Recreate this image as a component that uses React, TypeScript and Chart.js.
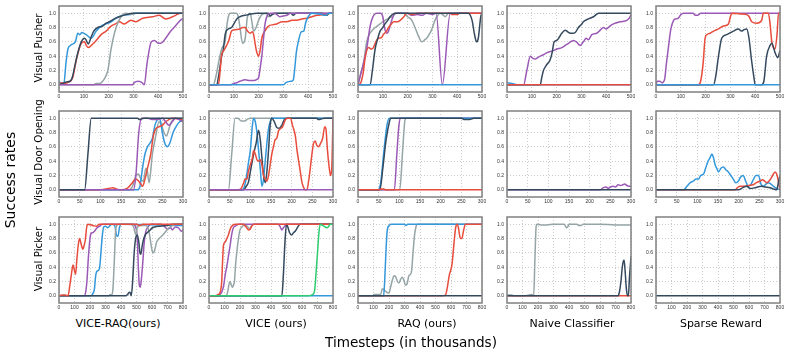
import React, { useEffect, useRef } from "react";
import { Chart, registerables } from "chart.js";
Chart.register(...registerables);

type Pt = [number, number];

const BLUE = "#3498db";
const RED = "#e74c3c";
const GRAY = "#95a5a6";
const DARK = "#34495e";
const PURPLE = "#9b59b6";
const GREEN = "#2ecc71";

// ---------- labels & ticks ----------
const rowLabels = ["Visual Pusher", "Visual Door Opening", "Visual Picker"];
const methodLabels = ["VICE-RAQ(ours)", "VICE (ours)", "RAQ (ours)", "Naive Classifier", "Sparse Reward"];
const xAxisTitle = "Timesteps (in thousands)";
const yAxisTitle = "Success rates";
const yTicks = [0, 0.2, 0.4, 0.6, 0.8, 1.0];
const pusherXTicks = [0, 100, 200, 300, 400, 500];
const doorXTicks = [0, 50, 100, 150, 200, 250, 300];
const pickerXTicks = [0, 100, 200, 300, 400, 500, 600, 700, 800];

// ---------- Visual Pusher ----------
const pushViceRaqBlue: Pt[] = [[0,0.05],[8,0.02],[20,0.03],[28,0.3],[36,0.5],[46,0.55],[56,0.57],[66,0.6],[76,0.72],[84,0.7],[92,0.73],[110,0.7],[130,0.65],[150,0.75],[170,0.82],[190,0.85],[210,0.88],[230,0.93],[257,0.97],[284,0.98],[310,1.0],[500,1.0]];
const pushViceRaqDark: Pt[] = [[0,0],[15,0.02],[30,0.04],[45,0.05],[55,0.12],[63,0.25],[76,0.45],[90,0.6],[103,0.65],[110,0.62],[118,0.57],[128,0.65],[140,0.75],[156,0.8],[176,0.82],[190,0.86],[203,0.88],[223,0.92],[243,0.95],[270,0.98],[297,1.0],[500,1.0]];
const pushViceRaqRed: Pt[] = [[0,0],[10,0.03],[20,0.02],[40,0.04],[55,0.1],[70,0.35],[90,0.58],[103,0.6],[110,0.55],[118,0.52],[136,0.57],[150,0.62],[170,0.7],[190,0.75],[210,0.82],[228,0.85],[243,0.88],[263,0.85],[290,0.9],[310,0.88],[337,0.93],[377,0.95],[404,0.97],[430,0.92],[444,0.93],[470,0.97],[490,1.0],[500,1.0]];
const pushViceRaqGray: Pt[] = [[0,0],[140,0],[150,0.02],[165,0.02],[176,0.05],[197,0.2],[210,0.5],[230,0.8],[250,0.95],[270,1.0],[290,0.98],[310,1.0],[500,1.0]];
const pushViceRaqPurple: Pt[] = [[0,0],[297,0],[303,0.03],[320,0.05],[335,0.03],[344,0],[355,0.3],[372,0.6],[385,0.62],[400,0.58],[410,0.58],[430,0.65],[444,0.72],[464,0.8],[484,0.88],[497,0.92],[500,0.9]];

const pushViceGray: Pt[] = [[0,0],[17,0],[30,0.15],[38,0.3],[51,0.5],[58,0.55],[65,0.6],[71,0.8],[78,0.95],[85,1.0],[110,1.0],[118,0.95],[125,0.8],[135,0.58],[146,0.65],[155,0.95],[166,1.0],[172,0.9],[180,0.75],[190,0.8],[200,0.9],[213,0.98],[232,1.0],[240,0.95],[250,0.97],[260,1.0],[500,1.0]];
const pushViceDark: Pt[] = [[0,0],[31,0],[40,0.15],[51,0.4],[58,0.5],[65,0.7],[78,0.78],[91,0.8],[105,0.88],[112,0.92],[125,0.95],[145,0.97],[159,0.98],[193,1.0],[240,1.0],[247,0.96],[255,0.98],[270,1.0],[330,1.0],[340,0.97],[350,1.0],[455,1.0],[465,0.97],[475,0.97],[485,1.0],[500,1.0]];
const pushViceRed: Pt[] = [[0,0],[38,0],[45,0.2],[51,0.42],[60,0.48],[71,0.55],[80,0.62],[91,0.75],[105,0.77],[125,0.78],[135,0.8],[146,0.8],[155,0.75],[166,0.72],[175,0.74],[180,0.7],[187,0.55],[193,0.45],[200,0.4],[207,0.5],[213,0.65],[225,0.75],[240,0.82],[260,0.84],[273,0.85],[295,0.88],[314,0.88],[335,0.9],[354,0.9],[375,0.92],[395,0.93],[415,0.95],[436,0.97],[460,0.98],[490,1.0],[500,1.0]];
const pushVicePurple: Pt[] = [[0,0],[85,0],[100,0.02],[112,0.03],[125,0.05],[146,0.07],[165,0.06],[180,0.06],[195,0.08],[200,0.1],[207,0.25],[213,0.4],[220,0.65],[226,0.85],[235,0.97],[247,1.0],[265,1.0],[274,0.98],[285,0.95],[300,0.96],[314,0.97],[328,1.0],[500,1.0]];
const pushViceBlue: Pt[] = [[0,0],[300,0],[310,0.03],[330,0.05],[340,0.07],[345,0.2],[352,0.45],[360,0.6],[372,0.74],[382,0.75],[390,0.87],[400,0.95],[415,1.0],[455,0.98],[470,0.97],[485,1.0],[500,1.0]];

const pushRaqGray: Pt[] = [[0,0],[10,0.15],[22,0.3],[35,0.6],[45,0.7],[55,0.75],[70,0.8],[89,0.85],[109,0.9],[125,0.93],[136,0.95],[156,1.0],[183,1.0],[200,0.95],[217,0.9],[230,0.8],[244,0.68],[257,0.6],[270,0.63],[277,0.65],[290,0.72],[297,0.77],[310,0.9],[318,0.95],[331,1.0],[345,0.97],[352,0.95],[365,1.0],[500,1.0]];
const pushRaqPurple: Pt[] = [[0,0],[15,0.2],[35,0.5],[48,0.8],[55,0.9],[65,0.98],[75,1.0],[92,1.0],[100,0.95],[108,0.78],[116,0.72],[123,0.75],[136,0.9],[150,1.0],[200,1.0],[215,0.97],[240,0.98],[260,0.97],[275,1.0],[300,0.98],[315,1.0],[340,0],[372,1.0],[500,1.0]];
const pushRaqRed: Pt[] = [[0,0],[10,0.02],[20,0.15],[30,0.4],[42,0.52],[55,0.5],[62,0.52],[72,0.6],[82,0.65],[95,0.66],[102,0.7],[115,0.75],[123,0.8],[135,0.85],[143,0.88],[160,0.88],[170,0.9],[185,0.95],[197,1.0],[220,0.98],[240,1.0],[370,1.0],[380,0.98],[400,0.98],[410,1.0],[500,1.0]];
const pushRaqDark: Pt[] = [[0,0],[49,0],[58,0.2],[69,0.5],[80,0.65],[89,0.75],[100,0.8],[109,0.85],[120,0.9],[129,0.95],[150,1.0],[445,1.0],[460,0.9],[470,0.7],[478,0.6],[485,0.65],[495,0.95],[500,1.0]];
const pushRaqBlue: Pt[] = [[0,0],[500,0]];

const pushNaiveRed: Pt[] = [[0,0],[500,0]];
const pushNaiveBlue: Pt[] = [[0,0.03],[20,0.02],[40,0],[500,0]];
const pushNaiveDark: Pt[] = [[0,0],[134,0],[140,0.1],[147,0.2],[160,0.28],[174,0.35],[182,0.45],[190,0.6],[201,0.62],[210,0.66],[221,0.72],[235,0.76],[245,0.74],[255,0.72],[265,0.72],[275,0.73],[288,0.8],[302,0.85],[308,0.88],[328,0.92],[349,0.95],[369,1.0],[500,1.0]];
const pushNaivePurple: Pt[] = [[0,0],[67,0],[80,0.2],[94,0.4],[104,0.37],[114,0.36],[124,0.38],[134,0.4],[147,0.42],[161,0.45],[181,0.47],[201,0.5],[221,0.52],[235,0.55],[248,0.58],[268,0.62],[280,0.6],[295,0.55],[308,0.6],[319,0.65],[328,0.63],[342,0.7],[362,0.72],[375,0.76],[389,0.8],[400,0.78],[415,0.82],[429,0.85],[456,0.88],[483,0.9],[495,0.94],[500,0.98]];

const pushSparseBlue: Pt[] = [[0,0],[500,0]];
const pushSparsePurple: Pt[] = [[0,0],[5,0.05],[15,0.05],[25,0.03],[35,0.08],[42,0.3],[51,0.55],[60,0.78],[71,0.9],[80,0.92],[90,0.93],[100,0.98],[111,1.0],[150,1.0],[158,0.97],[168,0.97],[180,1.0],[500,1.0]];
const pushSparseRed: Pt[] = [[0,0],[170,0],[180,0.05],[190,0.3],[198,0.65],[205,0.7],[218,0.72],[232,0.75],[252,0.78],[272,0.82],[292,0.85],[300,0.95],[306,1.0],[339,0.99],[366,0.98],[376,0.95],[386,0.88],[406,0.86],[426,0.9],[433,1.0],[453,1.0],[460,0.85],[467,0.6],[480,0.5],[488,0.7],[494,1.0],[500,1.0]];
const pushSparseDark: Pt[] = [[0,0],[232,0],[240,0.1],[252,0.4],[265,0.65],[285,0.7],[312,0.75],[332,0.78],[345,0.75],[355,0.77],[366,0.78],[375,0.65],[385,0.35],[395,0.1],[400,0],[426,0],[435,0.05],[446,0.4],[460,0.55],[467,0.58],[480,0.45],[491,0.38],[500,0.48]];

// ---------- Visual Door Opening ----------
const doorViceRaqDark: Pt[] = [[0,0],[62,0],[70,0.5],[78,1.0],[190,1.0],[195,0.98],[205,1.0],[300,1.0]];
const doorViceRaqPurple: Pt[] = [[0,0],[180,0],[186,0.2],[193,0.8],[200,1.0],[215,1.0],[225,0.98],[240,0.98],[250,1.0],[258,0.95],[266,0.9],[274,0.95],[282,1.0],[300,0.95]];
const doorViceRaqRed: Pt[] = [[0,0],[98,0],[110,0.01],[120,0.02],[130,0.03],[140,0.01],[150,0],[165,0.02],[175,0.08],[186,0.15],[193,0.12],[198,0.08],[202,0.05],[208,0.15],[214,0.3],[222,0.5],[228,0.75],[234,0.85],[242,0.88],[250,0.9],[258,0.95],[266,0.98],[274,1.0],[300,0.98]];
const doorViceRaqBlue: Pt[] = [[0,0],[190,0],[196,0.05],[202,0.3],[208,0.5],[214,0.6],[220,0.65],[226,0.72],[232,0.9],[238,0.98],[242,1.0],[246,0.95],[250,0.8],[256,0.65],[262,0.6],[268,0.65],[276,0.8],[285,0.9],[292,0.95],[300,0.97]];
const doorViceRaqGray: Pt[] = [[0,0],[170,0],[178,0.05],[186,0.2],[192,0.22],[198,0.15],[204,0.12],[210,0.3],[214,0.25],[218,0.1],[226,0.5],[234,0.75],[242,0.95],[248,0.9],[254,0.8],[260,0.75],[266,0.85],[272,0.95],[282,1.0],[300,1.0]];

const doorVicePurple: Pt[] = [[0,0],[300,0]];
const doorViceGray: Pt[] = [[0,0],[47,0],[55,0.5],[63,1.0],[70,1.0],[78,0.96],[86,0.96],[94,0.99],[100,1.0],[300,1.0]];
const doorViceBlue: Pt[] = [[0,0],[80,0],[86,0.05],[91,0.2],[96,0.4],[100,0.55],[105,0.9],[108,1.0],[112,0.95],[116,0.8],[120,0.55],[124,0.3],[128,0.05],[132,0.15],[136,0.4],[140,0.65],[144,0.85],[148,0.95],[152,1.0],[300,1.0]];
const doorViceDark: Pt[] = [[0,0],[84,0],[90,0.05],[95,0.1],[100,0.25],[108,0.5],[114,0.65],[120,0.83],[124,0.7],[128,0.45],[132,0.2],[136,0.1],[140,0.25],[144,0.55],[148,0.9],[152,1.0],[158,0.95],[164,0.87],[170,0.86],[176,0.9],[182,0.98],[190,1.0],[260,1.0],[265,0.98],[272,0.99],[280,1.0],[300,1.0]];
const doorViceRed: Pt[] = [[0,0],[71,0],[78,0.02],[84,0.1],[87,0.15],[92,0.15],[95,0.25],[100,0.35],[105,0.45],[108,0.55],[112,0.5],[116,0.42],[120,0.4],[124,0.42],[128,0.35],[132,0.2],[136,0.15],[140,0.12],[144,0.2],[148,0.35],[152,0.5],[156,0.6],[160,0.7],[164,0.72],[168,0.82],[172,0.85],[178,0.88],[185,0.98],[190,1.0],[197,1.0],[202,0.9],[209,0.75],[213,0.55],[217,0.4],[221,0.25],[225,0.1],[230,0.02],[233,0],[237,0],[241,0.12],[245,0.3],[249,0.5],[253,0.65],[257,0.68],[261,0.62],[265,0.6],[270,0.65],[275,0.72],[280,0.88],[283,0.85],[286,0.6],[290,0.35],[294,0.2],[297,0.3],[300,1.0]];

const doorRaqRed: Pt[] = [[0,0],[50,0],[55,0.01],[62,0.01],[68,0],[300,0]];
const doorRaqDark: Pt[] = [[0,0],[53,0],[60,0.3],[68,0.7],[76,0.95],[79,1.0],[250,1.0],[258,0.98],[270,0.98],[280,1.0],[300,1.0]];
const doorRaqBlue: Pt[] = [[0,0],[48,0],[55,0.1],[62,0.5],[70,0.9],[76,1.0],[300,1.0]];
const doorRaqPurple: Pt[] = [[0,0],[88,0],[94,0.5],[99,0.9],[103,1.0],[300,1.0]];
const doorRaqGray: Pt[] = [[0,0],[101,0],[108,0.55],[113,0.95],[116,1.0],[300,1.0]];

const doorNaiveDark: Pt[] = [[0,0],[300,0]];
const doorNaivePurple: Pt[] = [[0,0],[225,0],[233,0.03],[240,0.04],[245,0.02],[250,0.04],[257,0.05],[262,0.04],[269,0.07],[275,0.06],[280,0.07],[285,0.08],[290,0.06],[295,0.05],[300,0.05]];

const doorSparseDark: Pt[] = [[0,0],[200,0],[210,0.03],[219,0.05],[228,0.02],[240,0.03],[255,0.05],[265,0.04],[276,0.03],[285,0.01],[292,0],[296,0.1],[300,0.2]];
const doorSparseRed: Pt[] = [[0,0],[191,0],[197,0.03],[203,0.05],[215,0.05],[225,0.06],[235,0.07],[243,0.1],[251,0.12],[258,0.14],[263,0.12],[268,0.1],[276,0.14],[282,0.2],[288,0.25],[292,0.22],[296,0.12],[300,0]];
const doorSparseBlue: Pt[] = [[0,0],[67,0],[75,0.05],[83,0.1],[90,0.12],[97,0.15],[103,0.15],[108,0.2],[115,0.22],[120,0.3],[126,0.4],[131,0.45],[135,0.5],[139,0.45],[143,0.35],[147,0.3],[151,0.25],[157,0.3],[163,0.32],[169,0.28],[175,0.25],[181,0.2],[187,0.15],[193,0.1],[199,0.12],[205,0.18],[211,0.2],[217,0.12],[224,0.05],[230,0.08],[236,0.15],[242,0.2],[248,0.2],[254,0.08],[260,0.05],[266,0.08],[272,0.1],[278,0.08],[286,0.04],[292,0.02],[300,0]];

// ---------- Visual Picker ----------
const pickViceRaqRed: Pt[] = [[0,0],[20,0.01],[40,0.01],[58,0],[70,0.15],[80,0.3],[90,0.43],[100,0.35],[107,0.3],[115,0.5],[125,0.72],[133,0.8],[143,0.72],[154,0.65],[162,0.7],[171,0.8],[178,0.95],[186,1.0],[220,0.98],[240,0.97],[260,1.0],[500,1.0],[520,0.98],[540,1.0],[800,1.0]];
const pickViceRaqDark: Pt[] = [[0,0],[430,0],[443,0.02],[453,0.05],[460,0.04],[466,0],[475,0.2],[485,0.6],[496,0.82],[505,0.85],[515,0.75],[522,0.6],[528,0.58],[537,0.7],[547,0.8],[560,0.86],[580,0.9],[603,0.95],[640,0.97],[689,0.98],[730,1.0],[800,1.0]];
const pickViceRaqGray: Pt[] = [[0,0],[320,0],[330,0.02],[340,0.01],[348,0.1],[357,0.5],[365,0.9],[372,0.98],[385,1.0],[460,1.0],[480,0.97],[496,0.85],[505,0.95],[520,0.98],[560,0.98],[580,0.9],[595,0.7],[605,0.6],[615,0.62],[630,0.75],[646,0.8],[670,0.85],[689,0.9],[710,0.95],[732,0.98],[760,1.0],[800,1.0]];
const pickViceRaqBlue: Pt[] = [[0,0],[207,0],[218,0.03],[229,0.1],[235,0.25],[240,0.32],[250,0.35],[261,0.38],[267,0.5],[272,0.65],[280,0.85],[288,0.96],[300,0.97],[315,0.95],[325,0.97],[340,1.0],[360,0.98],[370,0.85],[380,0.83],[390,0.95],[400,1.0],[800,0.98]];
const pickViceRaqPurple: Pt[] = [[0,0],[165,0],[172,0.05],[180,0.2],[190,0.55],[200,0.8],[207,0.87],[218,0.88],[229,0.9],[245,0.95],[261,0.97],[280,1.0],[480,1.0],[496,0.95],[505,0.8],[512,0.4],[518,0.15],[524,0.12],[530,0.2],[540,0.45],[550,0.75],[560,0.9],[571,0.95],[590,1.0],[660,1.0],[680,0.97],[700,0.93],[720,0.95],[732,0.92],[750,0.96],[770,0.95],[790,0.9],[800,0.92]];

const pickViceGreen: Pt[] = [[0,0],[640,0],[660,0.01],[675,0.03],[682,0.08],[690,0.3],[700,0.6],[710,0.9],[718,1.0],[735,0.98],[750,0.96],[761,0.95],[772,0.97],[782,1.0],[800,1.0]];
const pickViceRed: Pt[] = [[0,0],[40,0],[60,0.02],[72,0.05],[82,0.2],[88,0.5],[93,0.7],[104,0.75],[115,0.8],[125,0.85],[135,0.92],[146,0.97],[168,1.0],[225,1.0],[235,0.97],[243,0.95],[255,0.92],[265,0.93],[278,0.98],[290,1.0],[800,1.0]];
const pickViceDark: Pt[] = [[0,0],[470,0],[480,0.3],[490,0.75],[500,1.0],[510,0.95],[520,0.88],[534,0.85],[545,0.88],[556,0.9],[570,0.95],[588,1.0],[800,1.0]];
const pickVicePurple: Pt[] = [[0,0],[60,0],[72,0.02],[82,0.05],[95,0.15],[105,0.3],[114,0.4],[125,0.55],[136,0.7],[146,0.85],[157,0.95],[175,0.98],[190,1.0],[445,1.0],[458,0.97],[470,0.92],[480,0.95],[492,0.98],[505,1.0],[800,1.0]];
const pickViceGray: Pt[] = [[0,0],[110,0],[120,0.05],[128,0.15],[136,0.2],[144,0.15],[151,0.12],[158,0.15],[164,0.2],[172,0.45],[179,0.6],[190,0.8],[200,0.92],[212,0.96],[222,0.98],[240,0.98],[255,0.95],[265,0.93],[272,0.97],[285,1.0],[800,1.0]];
const pickViceBlue: Pt[] = [[0,0],[800,0]];

const pickRaqDark: Pt[] = [[0,0],[800,0]];
const pickRaqRed: Pt[] = [[0,0],[540,0],[564,0.01],[575,0.1],[590,0.3],[600,0.37],[607,0.45],[620,0.75],[630,0.95],[639,1.0],[648,0.95],[655,0.85],[661,0.8],[670,0.8],[680,0.9],[693,1.0],[800,1.0]];
const pickRaqBlue: Pt[] = [[0,0],[165,0],[172,0.2],[180,0.6],[188,0.9],[200,0.98],[215,1.0],[300,1.0],[310,0.98],[320,1.0],[800,1.0]];
const pickRaqGray: Pt[] = [[0,0],[95,0],[103,0.02],[146,0.02],[157,0.1],[170,0.08],[185,0.05],[200,0.04],[210,0.12],[222,0.22],[232,0.28],[242,0.27],[254,0.2],[264,0.18],[275,0.23],[285,0.26],[296,0.22],[306,0.15],[317,0.17],[328,0.28],[339,0.3],[346,0.35],[355,0.6],[365,0.85],[375,0.97],[382,1.0],[800,1.0]];

const pickNaiveDark: Pt[] = [[0,0],[715,0],[725,0.05],[735,0.2],[745,0.42],[755,0.5],[762,0.35],[770,0.1],[778,0],[783,0],[790,0.25],[800,0.55]];
const pickNaiveRed: Pt[] = [[0,0],[800,0]];
const pickNaiveGray: Pt[] = [[0,0.01],[30,0.01],[45,0],[100,0],[140,0.01],[160,0.02],[172,0],[180,0.5],[188,0.97],[193,1.0],[220,0.99],[260,0.99],[300,1.0],[370,1.0],[378,0.97],[386,0.95],[394,0.97],[400,1.0],[450,1.0],[465,0.98],[478,0.98],[490,1.0],[600,1.0],[700,0.99],[800,0.99]];

const pickSparseDark: Pt[] = [[0,0],[800,0]];

// ---------- layout ----------
const colLefts = [59, 209, 358, 507, 656];
const rowTops = [4, 109, 215];
const PLOT_W = 124;
const PLOT_H = 88;
const Y_AXIS_W = 28;
const X_AXIS_H = 12;
const PAD_TOP = 4;
const PAD_RIGHT = 8;

type Series = { color: string; data: Pt[] };
type PanelDef = { xTicks: number[]; xMax: number; series: Series[] };

const s = (color: string, data: Pt[]): Series => ({ color, data });

const rows: PanelDef[][] = [
  [
    { xTicks: pusherXTicks, xMax: 500, series: [s(PURPLE, pushViceRaqPurple), s(DARK, pushViceRaqDark), s(GRAY, pushViceRaqGray), s(RED, pushViceRaqRed), s(BLUE, pushViceRaqBlue)] },
    { xTicks: pusherXTicks, xMax: 500, series: [s(BLUE, pushViceBlue), s(PURPLE, pushVicePurple), s(RED, pushViceRed), s(DARK, pushViceDark), s(GRAY, pushViceGray)] },
    { xTicks: pusherXTicks, xMax: 500, series: [s(BLUE, pushRaqBlue), s(DARK, pushRaqDark), s(RED, pushRaqRed), s(PURPLE, pushRaqPurple), s(GRAY, pushRaqGray)] },
    { xTicks: pusherXTicks, xMax: 500, series: [s(RED, pushNaiveRed), s(BLUE, pushNaiveBlue), s(DARK, pushNaiveDark), s(PURPLE, pushNaivePurple)] },
    { xTicks: pusherXTicks, xMax: 500, series: [s(BLUE, pushSparseBlue), s(DARK, pushSparseDark), s(RED, pushSparseRed), s(PURPLE, pushSparsePurple)] },
  ],
  [
    { xTicks: doorXTicks, xMax: 300, series: [s(DARK, doorViceRaqDark), s(PURPLE, doorViceRaqPurple), s(RED, doorViceRaqRed), s(BLUE, doorViceRaqBlue), s(GRAY, doorViceRaqGray)] },
    { xTicks: doorXTicks, xMax: 300, series: [s(PURPLE, doorVicePurple), s(RED, doorViceRed), s(DARK, doorViceDark), s(BLUE, doorViceBlue), s(GRAY, doorViceGray)] },
    { xTicks: doorXTicks, xMax: 300, series: [s(RED, doorRaqRed), s(DARK, doorRaqDark), s(BLUE, doorRaqBlue), s(PURPLE, doorRaqPurple), s(GRAY, doorRaqGray)] },
    { xTicks: doorXTicks, xMax: 300, series: [s(DARK, doorNaiveDark), s(PURPLE, doorNaivePurple)] },
    { xTicks: doorXTicks, xMax: 300, series: [s(DARK, doorSparseDark), s(RED, doorSparseRed), s(BLUE, doorSparseBlue)] },
  ],
  [
    { xTicks: pickerXTicks, xMax: 800, series: [s(RED, pickViceRaqRed), s(DARK, pickViceRaqDark), s(GRAY, pickViceRaqGray), s(BLUE, pickViceRaqBlue), s(PURPLE, pickViceRaqPurple)] },
    { xTicks: pickerXTicks, xMax: 800, series: [s(GREEN, pickViceGreen), s(RED, pickViceRed), s(DARK, pickViceDark), s(PURPLE, pickVicePurple), s(GRAY, pickViceGray), s(BLUE, pickViceBlue)] },
    { xTicks: pickerXTicks, xMax: 800, series: [s(DARK, pickRaqDark), s(RED, pickRaqRed), s(BLUE, pickRaqBlue), s(GRAY, pickRaqGray)] },
    { xTicks: pickerXTicks, xMax: 800, series: [s(DARK, pickNaiveDark), s(RED, pickNaiveRed), s(GRAY, pickNaiveGray)] },
    { xTicks: pickerXTicks, xMax: 800, series: [s(DARK, pickSparseDark)] },
  ],
];

const framePlugin = {
  id: "frame",
  afterDatasetsDraw(chart: any) {
    const { ctx, chartArea } = chart;
    ctx.save();
    ctx.strokeStyle = "#808080";
    ctx.lineWidth = 1.5;
    ctx.strokeRect(chartArea.left, chartArea.top, chartArea.right - chartArea.left, chartArea.bottom - chartArea.top);
    ctx.restore();
  },
};

const TICK_FONT = { family: "'Liberation Sans', Arial, sans-serif", size: 5 };

function Panel({ left, top, def }: { left: number; top: number; def: PanelDef }) {
  const ref = useRef<HTMLCanvasElement>(null);
  useEffect(() => {
    const chart = new Chart(ref.current as HTMLCanvasElement, {
      type: "line",
      data: {
        datasets: def.series.map((sr) => ({
          data: sr.data.map(([x, y]) => ({ x, y })),
          borderColor: sr.color,
          backgroundColor: sr.color,
          borderWidth: 1.5,
          pointRadius: 0,
          fill: false,
          cubicInterpolationMode: "monotone" as const,
        })),
      },
      options: {
        animation: false,
        responsive: false,
        devicePixelRatio: 1,
        events: [],
        layout: { padding: { left: 0, right: PAD_RIGHT, top: PAD_TOP, bottom: 0 } },
        plugins: { legend: { display: false }, tooltip: { enabled: false } },
        scales: {
          x: {
            type: "linear",
            min: 0,
            max: def.xMax,
            afterBuildTicks: (sc: any) => {
              sc.ticks = def.xTicks.map((v) => ({ value: v }));
            },
            afterFit: (sc: any) => {
              sc.height = X_AXIS_H;
            },
            grid: { color: "#bdbdbd", lineWidth: 0.8, drawTicks: false },
            border: { display: false, dash: [1, 2] },
            ticks: { autoSkip: false, maxRotation: 0, padding: 2, color: "#333", font: TICK_FONT, callback: (v: any) => String(v) },
          },
          y: {
            type: "linear",
            min: -0.1,
            max: 1.1,
            afterBuildTicks: (sc: any) => {
              sc.ticks = yTicks.map((v) => ({ value: v }));
            },
            afterFit: (sc: any) => {
              sc.width = Y_AXIS_W;
            },
            grid: { color: "#bdbdbd", lineWidth: 0.8, drawTicks: false },
            border: { display: false, dash: [1, 2] },
            ticks: { autoSkip: false, padding: 3, color: "#333", font: TICK_FONT, callback: (v: any) => Number(v).toFixed(1) },
          },
        },
      },
      plugins: [framePlugin],
    } as any);
    return () => chart.destroy();
  }, [def]);
  const w = Y_AXIS_W + PLOT_W + PAD_RIGHT;
  const h = PAD_TOP + PLOT_H + X_AXIS_H;
  return (
    <canvas
      ref={ref}
      width={w}
      height={h}
      style={{ position: "absolute", left: left - Y_AXIS_W, top: top - PAD_TOP, width: w, height: h }}
    />
  );
}

const FONT = "'DejaVu Sans', sans-serif";

function Label({ text, x, y, size, rotate }: { text: string; x: number; y: number; size: number; rotate?: boolean }) {
  return (
    <div
      style={{
        position: "absolute",
        left: x,
        top: y,
        transform: `translate(-50%, -50%)${rotate ? " rotate(-90deg)" : ""}`,
        whiteSpace: "nowrap",
        fontFamily: FONT,
        fontSize: size,
        lineHeight: 1,
        color: "#000",
      }}
    >
      {text}
    </div>
  );
}

const methodCenters = [118, 276, 427, 572, 721];
const rowCenters = [48, 152, 259];

export default function App() {
  return (
    <div style={{ position: "absolute", left: 0, top: 0, width: 789, height: 355, background: "#fff", overflow: "hidden" }}>
      {rows.map((row, ri) =>
        row.map((def, ci) => <Panel key={`${ri}-${ci}`} left={colLefts[ci]} top={rowTops[ri]} def={def} />)
      )}
      {methodLabels.map((t, i) => (
        <Label key={t} text={t} x={methodCenters[i]} y={323} size={11} />
      ))}
      {rowLabels.map((t, i) => (
        <Label key={t} text={t} x={38} y={rowCenters[i]} size={10.3} rotate />
      ))}
      <Label text={yAxisTitle} x={10} y={180} size={14} rotate />
      <Label text={xAxisTitle} x={411} y={343} size={13.6} />
    </div>
  );
}
